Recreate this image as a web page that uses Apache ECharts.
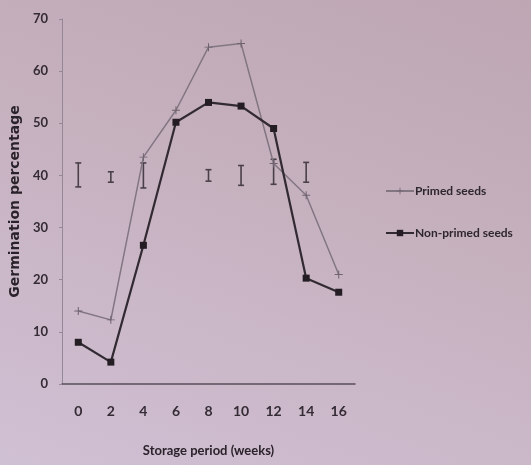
<!DOCTYPE html>
<html>
<head>
<meta charset="utf-8">
<script src="https://cdn.jsdelivr.net/npm/echarts@6/dist/echarts.min.js"></script>
<style>
html,body{margin:0;padding:0;}
#c{width:531px;height:465px;background:linear-gradient(200deg,#bea6b3 0%,#c6b1bf 45%,#d0c0d4 100%);}
</style>
</head>
<body>
<div id="c"></div>
<script>
var weeks = ['0','2','4','6','8','10','12','14','16'];
var primed = [14, 12.3, 43.5, 52.5, 64.6, 65.3, 42.3, 36.2, 21];
var nonPrimed = [8, 4.2, 26.6, 50.2, 54, 53.3, 49, 20.3, 17.6];
var errCenter = [40.1, 39.7, 40.0, null, 40.0, 40.0, 40.7, 40.6, null];
var errHalf = [2.3, 1.0, 2.4, null, 1.1, 1.9, 2.4, 1.9, null];
var yTicks = [0, 10, 20, 30, 40, 50, 60, 70];

var errData = [];
for (var i = 0; i < weeks.length; i++) {
  if (errCenter[i] != null) errData.push([i, errCenter[i] - errHalf[i], errCenter[i] + errHalf[i]]);
}

var chart = echarts.init(document.getElementById('c'), null, {renderer: 'canvas'});
var font = 'Lato, "Open Sans", sans-serif';
var crossPath = 'path://M0,4L8,4L8,5L0,5Z M3.5,0L4.5,0L4.5,9L3.5,9Z';
chart.setOption({
  backgroundColor: 'transparent',
  animation: false,
  grid: {left: 58, right: 176, top: 19, bottom: 81},
  legend: {
    orient: 'vertical',
    left: 380, top: 180,
    itemWidth: 28, itemHeight: 8, itemGap: 30,
    textStyle: {color: '#2e262e', fontSize: 12, fontFamily: font, fontWeight: 'bold', padding: [0,0,0,-4]},
    data: ['Primed seeds', 'Non-primed seeds']
  },
  xAxis: {
    type: 'category',
    data: weeks,
    boundaryGap: true,
    name: 'Storage period (weeks)',
    nameLocation: 'middle',
    nameGap: 60,
    nameTextStyle: {color: '#2a222a', fontSize: 13, fontWeight: 'bold', fontFamily: font},
    axisLine: {lineStyle: {color: '#5a4f5a', width: 1.5}},
    axisTick: {show: false},
    axisLabel: {color: '#342b34', fontSize: 14, fontFamily: font, fontWeight: 'bold', margin: 20}
  },
  yAxis: {
    type: 'value',
    min: 0, max: 70, interval: 10,
    name: 'Germination percentage',
    nameLocation: 'middle',
    nameGap: 40,
    nameTextStyle: {color: '#2a222a', fontSize: 14, fontWeight: 'bold', fontFamily: '"DejaVu Sans", sans-serif'},
    splitLine: {show: false},
    axisLine: {show: true, lineStyle: {color: '#958896', width: 1}},
    axisTick: {show: true, length: 3, lineStyle: {color: '#958896'}},
    axisLabel: {color: '#342b34', fontSize: 13, fontFamily: font, fontWeight: 'bold', margin: 14,
      formatter: function (v) { return yTicks.indexOf(v) >= 0 ? String(v) : ''; }}
  },
  series: [
    {
      name: 'Primed seeds',
      type: 'line',
      data: primed,
      symbol: crossPath,
      symbolSize: [8, 8],
      lineStyle: {color: '#827682', width: 1.5},
      itemStyle: {color: '#6e626e'},
      z: 3
    },
    {
      name: 'Non-primed seeds',
      type: 'line',
      data: nonPrimed,
      symbol: 'rect',
      symbolSize: 7,
      lineStyle: {color: '#322a32', width: 2.2},
      itemStyle: {color: '#241d24'},
      z: 4
    },
    {
      name: 'LSD',
      type: 'custom',
      data: errData,
      z: 2,
      renderItem: function (params, api) {
        var x = api.value(0);
        var lo = api.coord([x, api.value(1)]);
        var hi = api.coord([x, api.value(2)]);
        var w = 3;
        var st = {stroke: '#4a404a', lineWidth: 1.6};
        return {type: 'group', children: [
          {type: 'line', shape: {x1: lo[0], y1: lo[1], x2: hi[0], y2: hi[1]}, style: st},
          {type: 'line', shape: {x1: lo[0]-w, y1: lo[1], x2: lo[0]+w, y2: lo[1]}, style: st},
          {type: 'line', shape: {x1: hi[0]-w, y1: hi[1], x2: hi[0]+w, y2: hi[1]}, style: st}
        ]};
      }
    }
  ]
});
</script>
</body>
</html>
